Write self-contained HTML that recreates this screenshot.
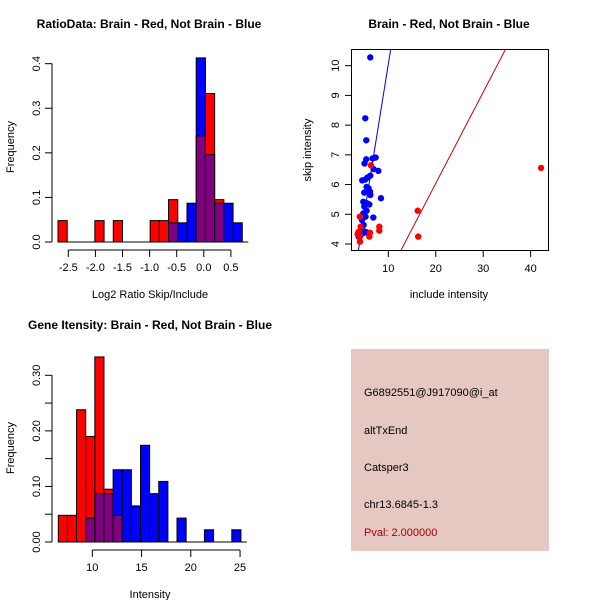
<!DOCTYPE html>
<html><head><meta charset="utf-8"><style>
body{margin:0;background:#fff;}
svg{display:block;font-family:"Liberation Sans",sans-serif;}
</style></head><body>
<svg id="c" width="600" height="600"></svg>
<script>
// Panel 1: log2 ratio histogram
const ratioBreakStart = -2.69, ratioBreakStep = 0.17;
const ratioRed = [0.048,0,0,0,0.048,0,0.048,0,0,0,0.048,0.048,0.095,0,0,0.238,0.333,0.095,0,0];
const ratioBlue = [0,0,0,0,0,0,0,0,0,0,0,0,0.043,0.043,0.087,0.413,0.196,0.087,0.087,0.043];
const ratioXTicks = [-2.5,-2.0,-1.5,-1.0,-0.5,0.0,0.5];
const ratioYTicks = [0.0,0.1,0.2,0.3,0.4];
// Panel 2: scatter
const blueX = [6.2,5.15,5.36,5.36,5.0,6.7,7.33,7.9,6.9,6.2,5.65,5.15,4.5,5.43,5.86,6.14,4.94,6.2,8.45,4.73,5.5,6.0,4.94,5.43,4.73,5.2,6.84,4.45,4.8,5.15,4.6,4.03,3.75,4.38,5.43];
const blueY = [10.28,8.23,7.49,6.85,6.71,6.88,6.91,6.46,6.52,6.3,6.24,6.17,6.14,5.92,5.87,5.76,5.73,5.65,5.54,5.42,5.37,5.33,5.26,5.12,5.03,4.92,4.89,4.81,4.64,4.41,4.36,4.33,4.25,4.53,4.39];
const redX = [6.35,4.0,4.17,3.75,4.03,4.03,6.14,6.0,8.1,8.1,16.2,16.3,42.2,3.54];
const redY = [6.65,4.92,4.58,4.41,4.25,4.08,4.38,4.25,4.58,4.45,5.12,4.25,6.56,4.34];
const blueLine = [0.11,0.994];
const redLine = [-0.10,0.307];
const scatXTicks = [10,20,30,40];
const scatYTicks = [4,5,6,7,8,9,10];
// Panel 3: intensity histogram
const intBreakStart = 6.55, intBreakStep = 0.927;
const intRed = [0.048,0.048,0.238,0.19,0.333,0.095,0.048,0,0,0,0,0,0,0,0,0,0,0,0,0];
const intBlue = [0,0,0,0.043,0.087,0.087,0.13,0.13,0.065,0.174,0.087,0.109,0,0.043,0,0,0.022,0,0,0.022];
const intXTicks = [10,15,20,25];
const intYTicks = [0.00,0.10,0.20,0.30];
const intYMinor = [0.05,0.15,0.25];
// Panel 4 text
const infoLines = ["G6892551@J917090@i_at","altTxEnd","Catsper3","chr13.6845-1.3"];
const pvalText = "Pval: 2.000000";

const svg = document.getElementById('c');
const NS = 'http://www.w3.org/2000/svg';
function mk(tag, attrs, parent){const e=document.createElementNS(NS,tag);for(const k in attrs)e.setAttribute(k,attrs[k]);(parent||svg).appendChild(e);return e;}
function txt(s, attrs, parent){const e=mk('text',attrs,parent);e.textContent=s;return e;}

function histogram(name, red, blue, bStart, bStep, sx, sy, xTicks, yTicks, fmtY, xTickY){
  const g = mk('g',{});
  
  
  for(let k=0;k<red.length;k++){
    const x0=sx(bStart+k*bStep), x1=sx(bStart+(k+1)*bStep);
    const r=red[k], b=blue[k];
    const hi=Math.max(r,b), lo=Math.min(r,b);
    if(hi>0){
      const bar=mk('rect',{x:x0,y:sy(hi),width:x1-x0,height:sy(0)-sy(hi),fill:r>=b?'#ff0000':'#0000ff',stroke:'#000','stroke-width':1},g);
      
      
    }
    if(lo>0){
      const ov=mk('rect',{x:x0,y:sy(lo),width:x1-x0,height:sy(0)-sy(lo),fill:'#800080',stroke:'#000','stroke-width':1},g);
      
      
    }
  }
  mk('line',{x1:sx(bStart),x2:sx(bStart+red.length*bStep)+6,y1:sy(0),y2:sy(0),stroke:'#000'},g);
  const ya=mk('g',{},g);
  
  
  mk('line',{x1:52,x2:52,y1:sy(yTicks[0]),y2:sy(yTicks[yTicks.length-1]),stroke:'#000'},ya);
  yTicks.forEach(v=>{
    mk('line',{x1:45,x2:52,y1:sy(v),y2:sy(v),stroke:'#000'},ya);
    txt(fmtY(v),{x:37,y:sy(v),'font-size':11,'text-anchor':'middle',transform:`rotate(-90 37 ${sy(v)})`,'dominant-baseline':'central'},ya);
  });
  const xa=mk('g',{},g);
  
  
  mk('line',{x1:sx(xTicks[0]),x2:sx(xTicks[xTicks.length-1]),y1:xTickY,y2:xTickY,stroke:'#000'},xa);
  xTicks.forEach(v=>{
    mk('line',{x1:sx(v),x2:sx(v),y1:xTickY,y2:xTickY+7,stroke:'#000'},xa);
    txt(v.toFixed(name==='ratio-histogram'?1:0),{x:sx(v),y:xTickY+21,'font-size':11,'text-anchor':'middle'},xa);
  });
  return g;
}

// Panel 1
const p1x = v => 68.3 + (v+2.5)*54.2;
const p1y = v => 242 - v*445.8;
histogram('ratio-histogram', ratioRed, ratioBlue, ratioBreakStart, ratioBreakStep, p1x, p1y, ratioXTicks, ratioYTicks, v=>v.toFixed(1), 250);
let t=txt('RatioData: Brain - Red, Not Brain - Blue',{x:149,y:28,'font-size':12,'font-weight':'bold','text-anchor':'middle'});

t=txt('Log2 Ratio Skip/Include',{x:150,y:298,'font-size':11,'text-anchor':'middle'});

t=txt('Frequency',{x:11,y:147,'font-size':11,'text-anchor':'middle',transform:'rotate(-90 11 147)','dominant-baseline':'central'});


// Panel 3
const p3x = v => 92.3 + (v-10)*9.85;
const p3y = v => 542 - v*555.7;
histogram('intensity-histogram', intRed, intBlue, intBreakStart, intBreakStep, p3x, p3y, intXTicks, intYTicks, v=>v.toFixed(2), 550);
intYMinor.forEach(v=>{ mk('line',{x1:45,x2:52,y1:p3y(v),y2:p3y(v),stroke:'#000'}); });
t=txt('Gene Itensity: Brain - Red, Not Brain - Blue',{x:150,y:329,'font-size':12,'font-weight':'bold','text-anchor':'middle'});

t=txt('Intensity',{x:150,y:598,'font-size':11,'text-anchor':'middle'});

t=txt('Frequency',{x:11,y:448,'font-size':11,'text-anchor':'middle',transform:'rotate(-90 11 448)','dominant-baseline':'central'});


// Panel 2 scatter
const sx2 = v => 388.3 + (v-10)*4.745;
const sy2 = v => 244 - (v-4)*29.72;
const sg = mk('g',{});


const cp=mk('clipPath',{id:'clp'},sg);
mk('rect',{x:352,y:49,width:196,height:202},cp);
const xmin=(352-388.3)/4.745+10, xmax=(548-388.3)/4.745+10;
[[blueLine,'#0000cc','blue-fit-line'],[redLine,'#cc0000','red-fit-line']].forEach(([ab,col,nm])=>{
  const l=mk('line',{x1:sx2(xmin),y1:sy2(ab[0]+ab[1]*xmin),x2:sx2(xmax),y2:sy2(ab[0]+ab[1]*xmax),stroke:col,'stroke-width':1,'clip-path':'url(#clp)'},sg);
  
  
});
blueX.forEach((x,i)=>{
  const c=mk('circle',{cx:sx2(x),cy:sy2(blueY[i]),r:3.2,fill:'#0000ff'},sg);
  
  
});
redX.forEach((x,i)=>{
  const c=mk('circle',{cx:sx2(x),cy:sy2(redY[i]),r:3.2,fill:'#ff0000'},sg);
  
  
});
mk('rect',{x:351.5,y:49.5,width:197,height:201,fill:'none',stroke:'#000'},sg);
scatXTicks.forEach(v=>{
  mk('line',{x1:sx2(v),x2:sx2(v),y1:250.5,y2:257,stroke:'#000'},sg);
  txt(String(v),{x:sx2(v),y:272,'font-size':11,'text-anchor':'middle'},sg);
});
scatYTicks.forEach(v=>{
  mk('line',{x1:345,x2:351.5,y1:sy2(v),y2:sy2(v),stroke:'#000'},sg);
  txt(String(v),{x:336,y:sy2(v),'font-size':11,'text-anchor':'middle',transform:`rotate(-90 336 ${sy2(v)})`,'dominant-baseline':'central'},sg);
});
t=txt('Brain - Red, Not Brain - Blue',{x:449,y:28,'font-size':12,'font-weight':'bold','text-anchor':'middle'});

t=txt('include intensity',{x:449,y:298,'font-size':11,'text-anchor':'middle'});

t=txt('skip intensity',{x:308,y:150,'font-size':11,'text-anchor':'middle',transform:'rotate(-90 308 150)','dominant-baseline':'central'});


// Panel 4 info box
const ig=mk('g',{});


mk('rect',{x:351,y:349,width:198,height:202,fill:'#e5c8c2'},ig);
const baselines=[396,434,471,508];
infoLines.forEach((s,i)=>{
  const e=txt(s,{x:364,y:baselines[i],'font-size':11,fill:'#000'},ig);
  
  
});
t=txt(pvalText,{x:364,y:536,'font-size':11,fill:'#aa0000'},ig);

</script>
</body></html>
